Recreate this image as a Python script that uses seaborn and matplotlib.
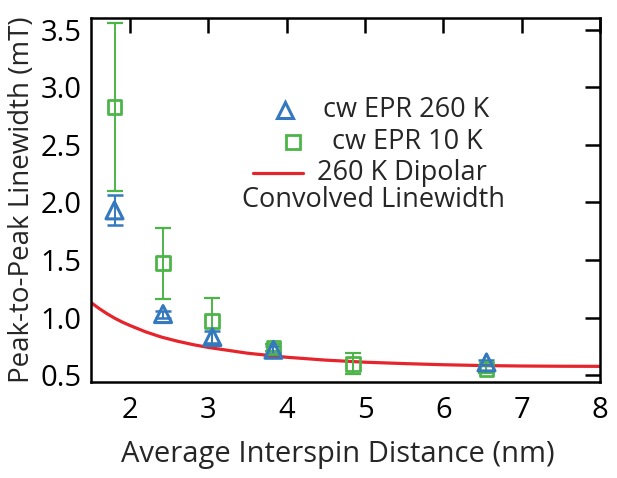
import numpy as np
import pandas as pd
import matplotlib
matplotlib.use("Agg")
import matplotlib.pyplot as plt
import seaborn as sns

# cw EPR 260 K (triangles)
x_260 = [1.80, 2.42, 3.05, 3.83, 6.55]
y_260 = [1.93, 1.03, 0.83, 0.72, 0.61]
err_260 = [0.13, 0.03, 0.05, 0.03, 0.02]

# cw EPR 10 K (squares)
x_10 = [1.80, 2.42, 3.05, 3.83, 4.84, 6.55]
y_10 = [2.83, 1.47, 0.97, 0.74, 0.60, 0.55]
err_10 = [0.73, 0.31, 0.20, 0.03, 0.09, 0.03]

# 260 K dipolar convolved linewidth (red curve)
x_fit = [1.5, 1.6, 1.7, 1.8, 1.9, 2.0, 2.2, 2.4, 2.6, 2.8, 3.0, 3.25, 3.5,
         4.0, 4.5, 5.0, 5.5, 6.0, 6.5, 7.0, 7.5, 8.0]
y_fit = [1.13, 1.08, 1.035, 0.995, 0.96, 0.93, 0.875, 0.83, 0.795, 0.765, 0.74,
         0.715, 0.69, 0.655, 0.63, 0.612, 0.60, 0.59, 0.583, 0.579, 0.577, 0.576]

blue = "#3479bd"
green = "#4db548"
red = "#e6242b"

sns.set_style("white")
plt.rcParams['font.family'] = ['Open Sans', 'DejaVu Sans']

fig = plt.figure(figsize=(6.17, 4.78), dpi=100)
ax = fig.add_axes([0.1475, 0.2008, 0.825, 0.7615])

fit = pd.DataFrame({"x": x_fit, "y": y_fit})
sns.lineplot(data=fit, x="x", y="y", color=red, linewidth=2.3, ax=ax)

ax.errorbar(x_10, y_10, yerr=err_10, fmt="none", ecolor=green, elinewidth=1.4,
            capsize=6, capthick=1.6, zorder=3)
ax.errorbar(x_260, y_260, yerr=err_260, fmt="none", ecolor=blue, elinewidth=1.4,
            capsize=6, capthick=1.8, zorder=3)

d10 = pd.DataFrame({"x": x_10, "y": y_10})
d260 = pd.DataFrame({"x": x_260, "y": y_260})
sns.scatterplot(data=d10, x="x", y="y", marker="s", s=100, facecolor="none",
                edgecolor=green, linewidth=2.0, ax=ax, zorder=4)
sns.scatterplot(data=d260, x="x", y="y", marker="^", s=150, facecolor="none",
                edgecolor=blue, linewidth=2.2, ax=ax, zorder=5)

ax.set_xlim(1.5, 8)
ax.set_ylim(0.44, 3.60)
ax.set_xticks([2, 3, 4, 5, 6, 7, 8])
ax.set_yticks([0.5, 1.0, 1.5, 2.0, 2.5, 3.0, 3.5])
ax.set_yticklabels(["0.5", "1.0", "1.5", "2.0", "2.5", "3.0", "3.5"])

for s in ax.spines.values():
    s.set_visible(True)
    s.set_color("black")
    s.set_linewidth(1.8)
ax.tick_params(direction="in", length=11, width=1.8, top=True, right=True,
               labelsize=21, colors="black", pad=10)
ax.tick_params(axis="y", pad=7)

ax.set_xlabel("Average Interspin Distance (nm)", fontsize=21)
ax.set_ylabel("Peak-to-Peak Linewidth (mT)", fontsize=20, labelpad=3)
ax.xaxis.set_label_coords(0.485, -0.16)

# legend drawn by hand to match the original layout
ax.plot([0.381], [0.747], marker="^", ms=11, mfc="none", mec=blue, mew=2.2,
        transform=ax.transAxes, clip_on=False)
ax.text(0.456, 0.747, "cw EPR 260 K", transform=ax.transAxes, fontsize=19.5,
        va="center", ha="left")
ax.plot([0.397], [0.659], marker="s", ms=10, mfc="none", mec=green, mew=2.0,
        transform=ax.transAxes, clip_on=False)
ax.text(0.473, 0.659, "cw EPR 10 K", transform=ax.transAxes, fontsize=19.5,
        va="center", ha="left")
ax.plot([0.318, 0.417], [0.574, 0.574], color=red, lw=2.3,
        transform=ax.transAxes)
ax.text(0.444, 0.574, "260 K Dipolar", transform=ax.transAxes, fontsize=19.5,
        va="center", ha="left")
ax.text(0.555, 0.50, "Convolved Linewidth", transform=ax.transAxes, fontsize=19.5,
        va="center", ha="center")

fig.savefig("out.png", dpi=100)
